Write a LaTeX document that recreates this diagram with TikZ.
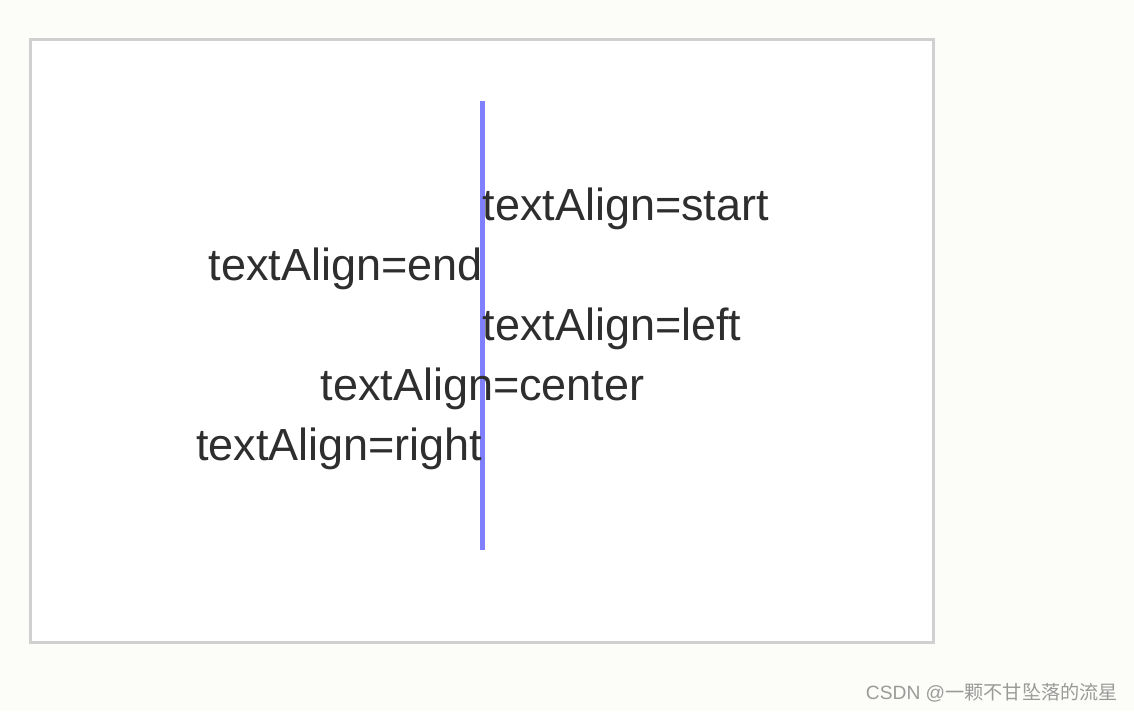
\documentclass[tikz,border=0pt]{standalone}
\usepackage{fontspec}
\setmainfont{Liberation Sans}
\newfontfamily\cjkfont{Noto Sans CJK SC}
\definecolor{pagebg}{HTML}{FCFDF8}
\definecolor{canvasborder}{HTML}{D0D0D0}
\definecolor{guideblue}{HTML}{8080FF}
\definecolor{txt}{HTML}{2E2E2E}
\definecolor{mark}{HTML}{9A9A9A}
\begin{document}
\begin{tikzpicture}[x=0.75pt,y=-0.75pt,
  lbl/.style={inner sep=0pt,outer sep=0pt,text=txt,font=\fontsize{33.75pt}{40pt}\selectfont},
  wm/.style={inner sep=0pt,outer sep=0pt,text=mark,font=\fontsize{14.4pt}{17pt}\selectfont}]
\useasboundingbox[fill=pagebg] (0,0) rectangle (1134,711);
\draw[canvasborder,fill=white,line width=2.25pt] (30.5,39.5) rectangle (933,642.5);
\coordinate (top) at (482.5,101);
\coordinate (bot) at (482.5,550);
\draw[guideblue,line width=3.4pt] (top) -- (bot);
\node[lbl,anchor=base west] (start) at (482.5,220) {textAlign=start};
\node[lbl,anchor=base east] (end) at (482.5,280) {textAlign=end};
\node[lbl,anchor=base west] (left) at (482.5,340) {textAlign=left};
\node[lbl,anchor=base] (center) at (482.5,400) {textAlign=center};
\node[lbl,anchor=base east] (right) at (482.5,460) {textAlign=right};
\node[wm,anchor=base east] (mk) at (1118,699) {CSDN @{\cjkfont 一颗不甘坠落的流星}};
\end{tikzpicture}
\end{document}
